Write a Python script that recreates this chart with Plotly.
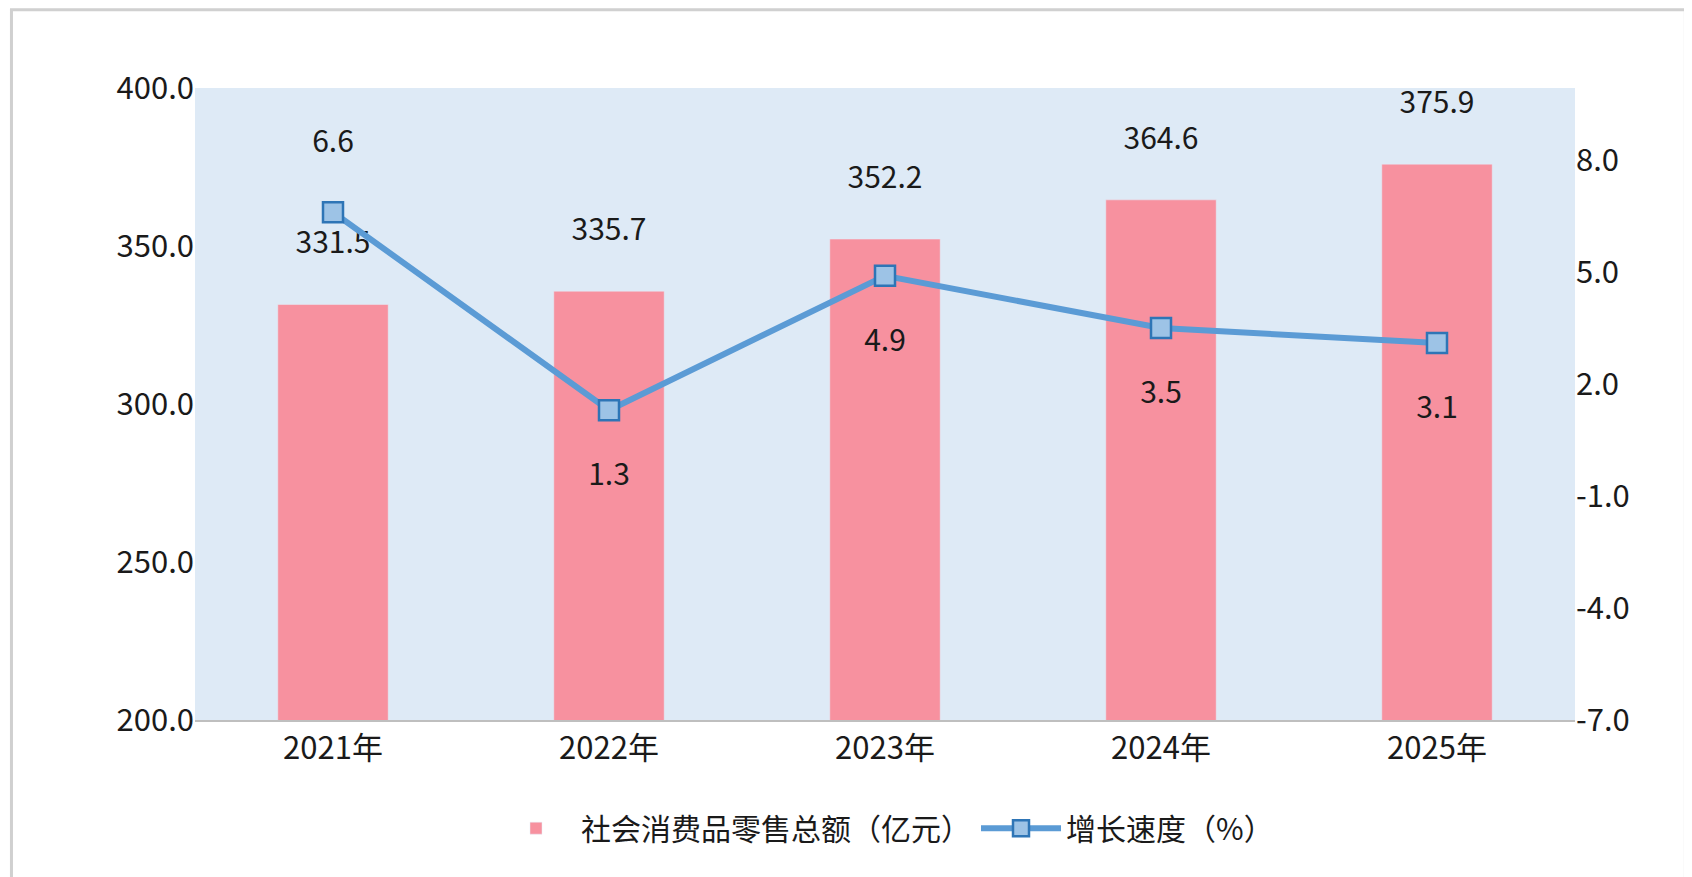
import plotly.graph_objects as go

years = ["2021年", "2022年", "2023年", "2024年", "2025年"]
sales = [331.5, 335.7, 352.2, 364.6, 375.9]
growth = [6.6, 1.3, 4.9, 3.5, 3.1]
growth_pos = ["top center", "bottom center", "bottom center", "bottom center", "bottom center"]
right_ticks = [-7, -4, -1, 2, 5, 8]

font = "Noto Sans CJK SC"

fig = go.Figure()
fig.add_trace(go.Bar(
    x=years, y=sales, name="社会消费品零售总额（亿元）",
    marker_color="#F7919F", width=0.4,
    text=[f"{v:.1f}<br> " for v in sales], textposition="outside",
    textfont=dict(size=30, color="#1a1a1a"), cliponaxis=False,
))
fig.add_trace(go.Scatter(
    x=years, y=growth, name="增长速度（%）", yaxis="y2",
    mode="lines+markers+text",
    line=dict(color="#5B9BD5", width=6),
    marker=dict(symbol="square", size=20, color="#9DC3E6",
                line=dict(color="#2E75B6", width=2.5)),
    text=[f"{v:.1f}<br> " if p.startswith("top") else f" <br>{v:.1f}"
          for v, p in zip(growth, growth_pos)],
    textposition=growth_pos,
    textfont=dict(size=30, color="#1a1a1a"), cliponaxis=False,
))

fig.update_layout(
    width=1692, height=877,
    margin=dict(l=187, r=125, t=80, b=165),
    paper_bgcolor="white", plot_bgcolor="#DEEAF6",
    font=dict(family=font, size=30, color="#1a1a1a"),
    showlegend=True,
    legend=dict(orientation="h", x=0.5, xanchor="center", y=-0.13, yanchor="top",
                font=dict(size=30), itemwidth=80),
    xaxis=dict(showgrid=False, showline=True, linecolor="#BFBFBF", linewidth=2,
               ticks="", tickfont=dict(size=31)),
    yaxis=dict(range=[200, 400], dtick=50, tickformat=".1f", showgrid=False,
               zeroline=False, tickfont=dict(size=31)),
    yaxis2=dict(range=[-7, 9.93], tickvals=right_ticks,
                ticktext=[f"{v:.1f}" for v in right_ticks],
                overlaying="y", side="right", showgrid=False, zeroline=False,
                tickfont=dict(size=31)),
    shapes=[dict(type="rect", xref="paper", yref="paper",
                 x0=-0.133, x1=1.08, y0=-0.255, y1=1.124,
                 line=dict(color="#D0D0D0", width=3))],
)

fig.write_html("out.html")
